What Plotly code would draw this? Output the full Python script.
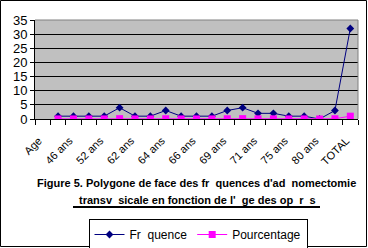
import plotly.graph_objects as go

categories = ["Age", "44 ans", "46 ans", "50 ans", "52 ans", "60 ans", "62 ans", "63 ans",
              "64 ans", "65 ans", "66 ans", "68 ans", "69 ans", "70 ans", "71 ans", "73 ans",
              "75 ans", "78 ans", "80 ans", "82 ans", "TOTAL"]
frequence = [None, 1, 1, 1, 1, 4, 1, 1, 3, 1, 1, 1, 3, 4, 2, 2, 1, 1, 0, 3, 32]
pourcentage = [None, 0.03, 0.03, 0.03, 0.03, 0.13, 0.03, 0.03, 0.09, 0.03, 0.03, 0.03,
               0.09, 0.13, 0.06, 0.06, 0.03, 0.03, 0.0, 0.09, 1.0]
shown_labels = ["Age", "46 ans", "52 ans", "62 ans", "64 ans", "66 ans", "69 ans",
                "71 ans", "75 ans", "80 ans", "TOTAL"]
yticks = [0, 5, 10, 15, 20, 25, 30, 35]

xpos = list(range(1, len(categories) + 1))
label_pos = [xpos[categories.index(c)] for c in shown_labels]

FONT = "Liberation Sans, Arial, sans-serif"

fig = go.Figure()
fig.add_trace(go.Scatter(x=xpos, y=frequence, name="Fr  quence", mode="lines+markers",
                         line=dict(color="#000080", width=1),
                         marker=dict(symbol="diamond", size=6, color="#000080")))
fig.add_trace(go.Scatter(x=xpos, y=pourcentage, name="Pourcentage", mode="lines+markers",
                         line=dict(color="#FF00FF", width=1),
                         marker=dict(symbol="square", size=7, color="#FF00FF")))

L, R, T, B = 35, 10, 20, 129
W, H = 368, 248
pw, ph = W - L - R, H - T - B

fig.update_layout(
    width=W, height=H,
    margin=dict(l=L, r=R, t=T, b=B, autoexpand=False),
    paper_bgcolor="white", plot_bgcolor="#C0C0C0",
    font=dict(family=FONT, size=11, color="black"),
    showlegend=True,
    legend=dict(orientation="h", xref="container", yref="container",
                x=198 / W, xanchor="center", y=1 - 219 / H, yanchor="top",
                bordercolor="black", borderwidth=1, bgcolor="white",
                font=dict(size=12), itemwidth=30, tracegroupgap=0),
    xaxis=dict(range=[0.5, len(categories) + 0.5], tickmode="array",
               tickvals=label_pos, ticktext=shown_labels, tickangle=-45,
               ticks="", showgrid=False, zeroline=False,
               showline=True, linecolor="black", linewidth=1,
               tickfont=dict(size=11), ticklabelstandoff=10, ticklabelshift=-4,
               minor=dict(tick0=0.5, dtick=1, ticks="outside", ticklen=5,
                          tickcolor="black", showgrid=False)),
    yaxis=dict(range=[0, 35], tickvals=yticks, ticks="outside", ticklen=4,
               tickcolor="black", showgrid=True, gridcolor="black", gridwidth=1,
               zeroline=False, showline=True, linecolor="black", linewidth=1,
               tickfont=dict(size=13)),
    annotations=[
        dict(text="<b>Figure 5. Polygone de face des fr  quences d'ad  nomectomie</b>",
             xref="paper", yref="paper", x=(196 - L) / pw, y=(H - B - 183) / ph,
             xanchor="center", yanchor="middle", showarrow=False,
             font=dict(size=11)),
        dict(text="<b>transv  sicale en fonction de l'  ge des op  r  s</b>",
             xref="paper", yref="paper", x=(197 - L) / pw, y=(H - B - 200) / ph,
             xanchor="center", yanchor="middle", showarrow=False,
             font=dict(size=11)),
    ],
    shapes=[
        dict(type="line", xref="paper", yref="paper",
             x0=(73 - L) / pw, x1=(320 - L) / pw,
             y0=(H - B - 207) / ph, y1=(H - B - 207) / ph,
             line=dict(color="black", width=2)),
        dict(type="line", xref="paper", yref="paper", x0=0, x1=1, y0=1, y1=1,
             line=dict(color="#808080", width=1)),
        dict(type="line", xref="paper", yref="paper", x0=1, x1=1, y0=0, y1=1,
             line=dict(color="#808080", width=1)),
        dict(type="rect", xref="paper", yref="paper",
             x0=(0.5 - L) / pw, x1=(366.5 - L) / pw,
             y0=(H - B - 246.5) / ph, y1=(H - B - 0.5) / ph,
             line=dict(color="black", width=1), fillcolor="rgba(0,0,0,0)", layer="above"),
    ],
)

fig.write_html("out.html")
